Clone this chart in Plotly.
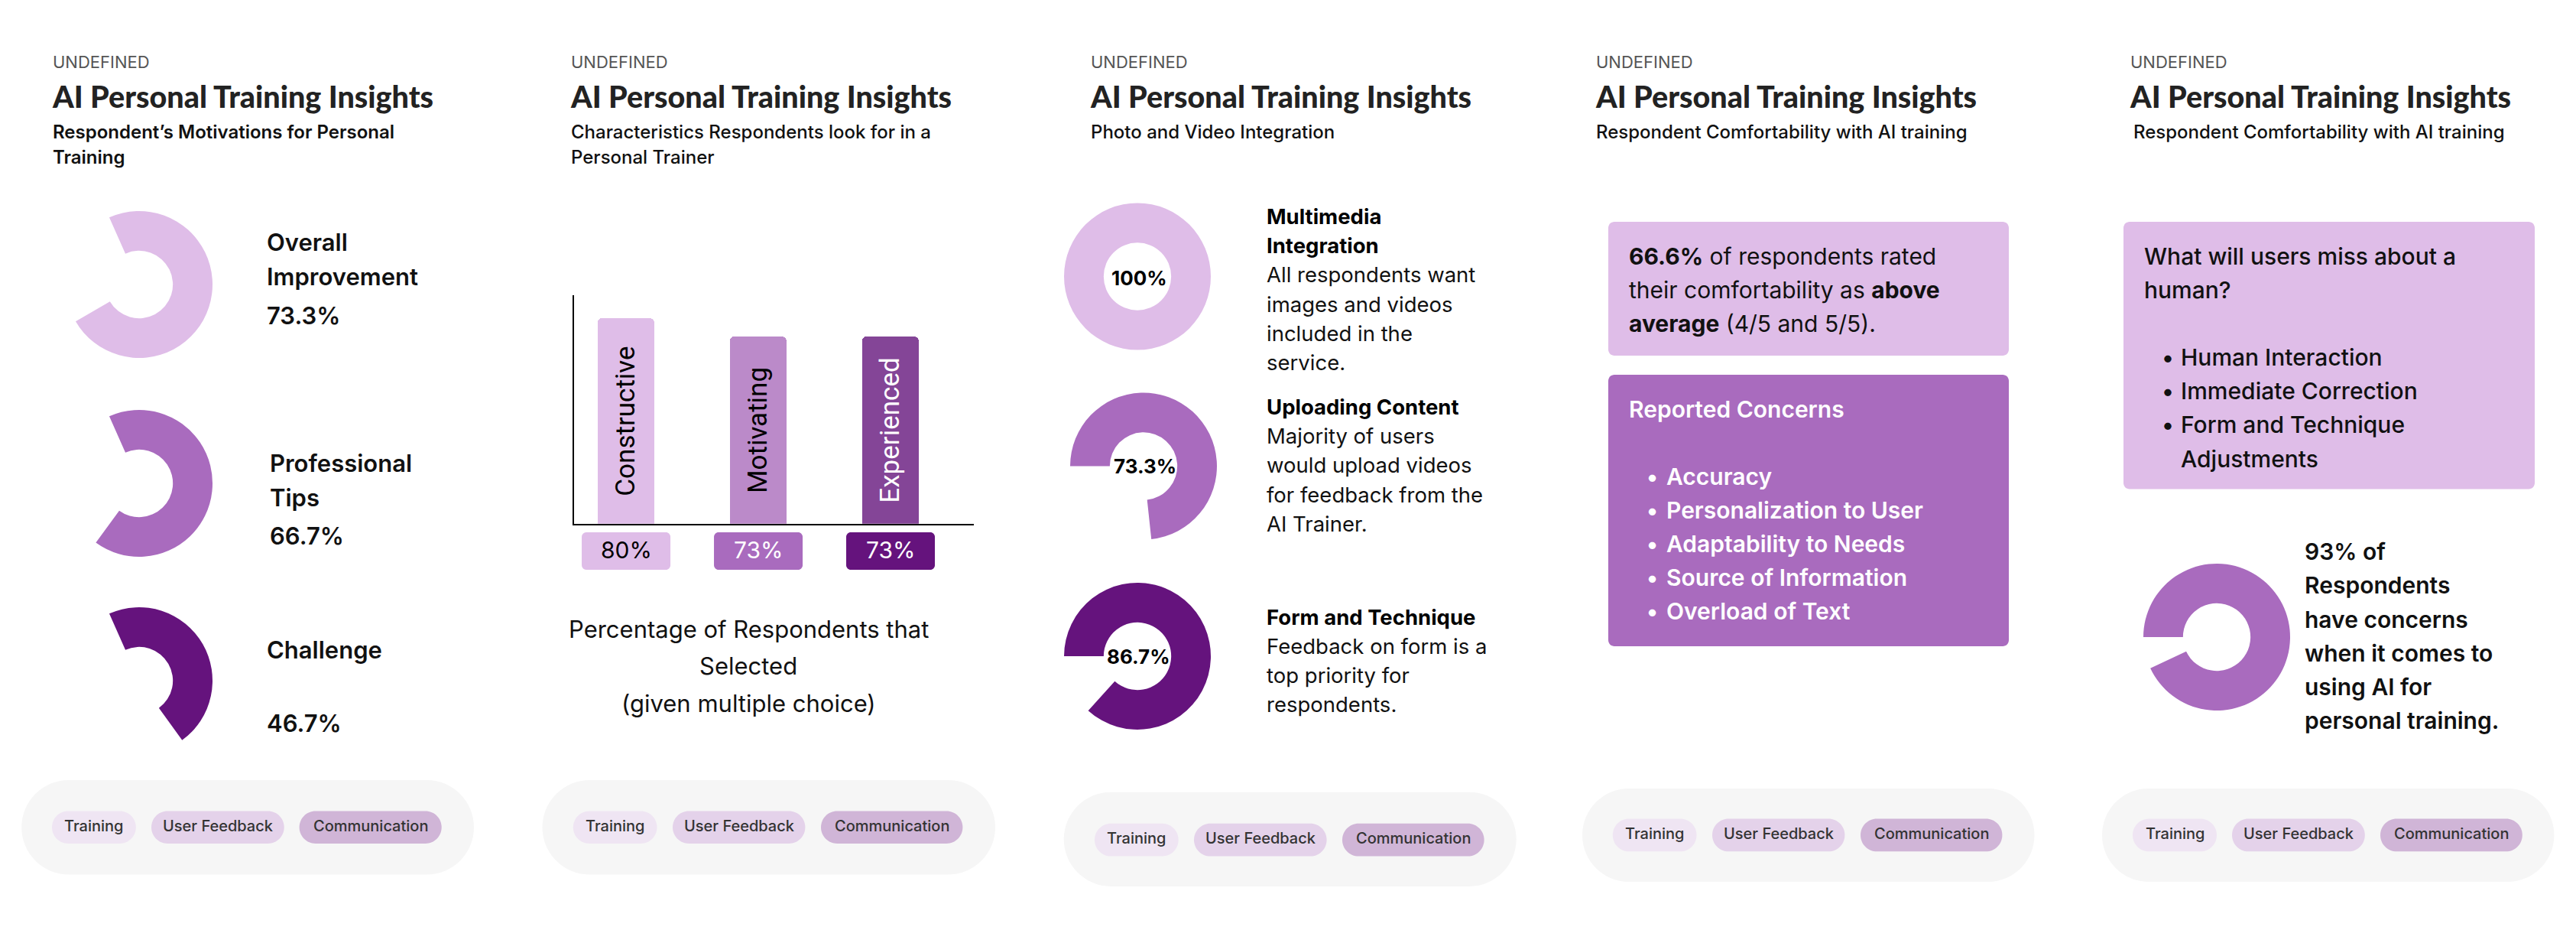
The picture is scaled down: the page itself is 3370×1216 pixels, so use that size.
import plotly.graph_objects as go

W, H = 3370, 1216

# ---------------- data ----------------
kicker = "UNDEFINED"
title_text = "AI Personal Training Insights"
subtitles = [
    ["Respondent\u2019s Motivations for Personal", "Training"],
    ["Characteristics Respondents look for in a", "Personal Trainer"],
    ["Photo and Video Integration"],
    ["Respondent Comfortability with AI training"],
    ["Respondent Comfortability with AI training"],
]

motivation_labels = [["Overall", "Improvement"], ["Professional", "Tips"], ["Challenge"]]
motivation_values = [73.3, 66.7, 46.7]

trait_names = ["Constructive", "Motivating", "Experienced"]
trait_values = [80, 73, 73]
caption_lines = ["Percentage of Respondents that", "Selected", "(given multiple choice)"]

media_values = [100, 73.3, 86.7]
media_heads = [["Multimedia", "Integration"], ["Uploading Content"], ["Form and Technique"]]
media_bodies = [
    ["All respondents want", "images and videos", "included in the", "service."],
    ["Majority of users", "would upload videos", "for feedback from the", "AI Trainer."],
    ["Feedback on form is a", "top priority for", "respondents."],
]

comfort_pct = 66.6
concerns = ["Accuracy", "Personalization to User", "Adaptability to Needs",
            "Source of Information", "Overload of Text"]
miss_items = [["Human Interaction"], ["Immediate Correction"], ["Form and Technique", "Adjustments"]]
concern_share = 93
concern_lines = ["Respondents", "have concerns", "when it comes to", "using AI for", "personal training."]

tags = ["Training", "User Feedback", "Communication"]

# ---------------- style ----------------
LIGHT, MID, DARK = "#dfbde8", "#a96bbe", "#65137d"
BAR_COLORS = ["#dfbde8", "#bb8ac9", "#844597"]
BOX_COLORS = [LIGHT, MID, DARK]
BOX_TEXT = ["#000000", "#ffffff", "#ffffff"]
BAR_TEXT = ["#000000", "#000000", "#ffffff"]
TAG_COLORS = ["#efe5f3", "#e4d2ea", "#d0b5d7"]
PILL_BG = "#f6f6f6"
BODY = "Inter, 'Noto Sans', sans-serif"
TITLE_FONT = "Lato, 'Liberation Sans', sans-serif"

DX, DY = -8, -6      # global placement offset (px)
TEXT_DY = -2         # extra lift for text baselines


def X(px):
    return (px + DX) / W


def Y(py):
    return 1 - (py + DY) / H


annotations = []
shapes = []


def T(x, y, text, size, color="#111111", weight=400, xanchor="left", family=BODY):
    annotations.append(dict(
        x=X(x), y=Y(y + TEXT_DY), xref="paper", yref="paper", text=text, showarrow=False,
        xanchor=xanchor, yanchor="middle",
        font=dict(family=family, size=size, color=color, weight=weight)))


def rrect(x0, y0, x1, y1, r, color):
    k = 0.5523 * r
    p = lambda x, y: f"{X(x):.6f},{Y(y):.6f}"
    path = (f"M{p(x0 + r, y0)} L{p(x1 - r, y0)} "
            f"C{p(x1 - r + k, y0)} {p(x1, y0 + r - k)} {p(x1, y0 + r)} "
            f"L{p(x1, y1 - r)} "
            f"C{p(x1, y1 - r + k)} {p(x1 - r + k, y1)} {p(x1 - r, y1)} "
            f"L{p(x0 + r, y1)} "
            f"C{p(x0 + r - k, y1)} {p(x0, y1 - r + k)} {p(x0, y1 - r)} "
            f"L{p(x0, y0 + r)} "
            f"C{p(x0, y0 + r - k)} {p(x0 + r - k, y0)} {p(x0 + r, y0)} Z")
    shapes.append(dict(type="path", path=path, xref="paper", yref="paper",
                       fillcolor=color, line=dict(width=0), layer="below"))


fig = go.Figure()


def donut(cx, cy, r, value, color, rotation):
    fig.add_trace(go.Pie(
        values=[value, 100 - value], sort=False, direction="clockwise",
        rotation=rotation, hole=0.46, textinfo="none", hoverinfo="skip",
        marker=dict(colors=[color, "rgba(0,0,0,0)"], line=dict(width=0)),
        domain=dict(x=[X(cx - r), X(cx + r)], y=[Y(cy + r), Y(cy - r)]),
        showlegend=False))


# ---------------- headers ----------------
head_x = [66.6, 745, 1425, 2085.5, 2785]
sub_x = [66.6, 745, 1425, 2085.5, 2789]
sub_weight = [600, 500, 500, 500, 500]
for i in range(5):
    T(head_x[i], 81.5, kicker, 22, color="#555555", weight=400)
    T(head_x[i] - 1, 126, title_text, 39.5, color="#222222", weight=900, family=TITLE_FONT)
    for j, line in enumerate(subtitles[i]):
        T(sub_x[i], 172 + 34 * j, line, 24, color="#111111", weight=sub_weight[i])

# ---------------- panel 1 ----------------
R = 96
p1_cy = [370, 630, 888]
p1_text_x = [347, 351, 347]
p1_line_y = [[316, 361, 413], [605, 650, 700], [849, 945]]
p1_colors = [LIGHT, MID, DARK]
for i, v in enumerate(motivation_values):
    donut(182, p1_cy[i], R, v, p1_colors[i], -24)
    lines = motivation_labels[i] + [f"{v:g}%"]
    for j, line in enumerate(lines):
        T(p1_text_x[i], p1_line_y[i][j], line, 31, color="#111111", weight=600)

# ---------------- panel 2 (bar chart) ----------------
xdom = (750.9, 1274.0)
xr = (-0.394, 2.63)
ydom = (682.7, 384.0)
fig.add_trace(go.Bar(
    x=trait_names, y=trait_values, width=0.425,
    marker=dict(color=BAR_COLORS, cornerradius=6, line=dict(width=0)),
    text=trait_names, textposition="inside", textangle=-90, insidetextanchor="middle",
    textfont=dict(family="Roboto, sans-serif", size=35, color=BAR_TEXT),
    hoverinfo="skip", showlegend=False, xaxis="x", yaxis="y"))


def cat_px(i):
    return xdom[0] + (i - xr[0]) / (xr[1] - xr[0]) * (xdom[1] - xdom[0])


for i, v in enumerate(trait_values):
    cx = cat_px(i)
    rrect(cx - 58, 694, cx + 58, 743, 6, BOX_COLORS[i])
    annotations.append(dict(x=trait_names[i], xref="x", y=Y(719 + TEXT_DY), yref="paper",
                            text=f"{v}%", showarrow=False, xanchor="center", yanchor="middle",
                            font=dict(family=BODY, size=30, color=BOX_TEXT[i], weight=400)))

for j, line in enumerate(caption_lines):
    T(979, 822 + 48.5 * j, line, 31, color="#111111", weight=400, xanchor="center")

# ---------------- panel 3 ----------------
p3_centers = [(1488, 359.5), (1496, 607.5), (1488, 856)]
p3_rot = [-90, -90, -90]
p3_label_xy = [(1490, 363), (1498, 609), (1489, 858.5)]
p3_block_y = [283, 532, 806.5]
for i, v in enumerate(media_values):
    cx, cy = p3_centers[i]
    donut(cx, cy, R, v, p1_colors[i], p3_rot[i])
    lx, ly = p3_label_xy[i]
    T(lx, ly, f"{v:g}%", 26, color="#000000", weight=700, xanchor="center")
    y = p3_block_y[i]
    for line in media_heads[i]:
        T(1655, y, line, 27.5, color="#000000", weight=700)
        y += 38.2
    for line in media_bodies[i]:
        T(1655, y, line, 27.5, color="#111111", weight=400)
        y += 38.2

# ---------------- panel 4 ----------------
rrect(2104, 288, 2628, 463, 8, LIGHT)
T(2129, 335, f"<b>{comfort_pct}%</b> of respondents rated", 30)
T(2129, 379, "their comfortability as <b>above</b>", 30)
T(2129, 423, "<b>average</b> (4/5 and 5/5).", 30)
rrect(2104, 488, 2628, 843, 8, MID)
T(2129, 535, "Reported Concerns", 30, color="#ffffff", weight=600)
for j, c in enumerate(concerns):
    yy = 623 + 44 * j
    T(2152, yy, "\u2022", 30, color="#ffffff", weight=600)
    T(2177.5, yy, c, 30, color="#ffffff", weight=600)

# ---------------- panel 5 ----------------
rrect(2778, 288, 3316, 637.5, 8, LIGHT)
T(2803, 335, "What will users miss about a", 30, weight=500)
T(2803, 379, "human?", 30, weight=500)
yy = 467
for item in miss_items:
    T(2825.5, yy, "\u2022", 30, weight=500)
    for line in item:
        T(2851, yy, line, 30, weight=500)
        yy += 44.2
donut(2900, 831, R, concern_share, MID, -90)
T(3013, 721, f"{concern_share}% of", 30, weight=600)
for j, line in enumerate(concern_lines):
    T(3013, 765.3 + 44.2 * j, line, 30, weight=600)

# ---------------- tag pills ----------------
pill_x = [(28.2, 620), (709.5, 1302), (1391.7, 1983.7), (2070, 2661.5), (2750, 3341.4)]
pill_y = [(1018, 1141.5), (1018, 1141.5), (1033.7, 1157), (1029, 1151), (1029, 1151)]
tag_y = [(1058.6, 1101), (1058.6, 1101), (1074.8, 1117.5), (1068.6, 1111.3), (1068.6, 1111.3)]
tag_x = [
    [(68, 177.8), (198, 371.7), (391.6, 577.7)],
    [(749.8, 859.5), (880, 1053.4), (1074, 1259.4)],
    [(1432, 1541.7), (1562, 1735.6), (1756, 1941.6)],
    [(2109.8, 2219.5), (2240, 2413.4), (2434, 2619.4)],
    [(2790, 2900), (2920, 3093.8), (3114, 3299.8)],
]
for p in range(5):
    x0, x1 = pill_x[p]
    y0, y1 = pill_y[p]
    rrect(x0, y0, x1, y1, (y1 - y0) / 2, PILL_BG)
    ty0, ty1 = tag_y[p]
    for k, tag in enumerate(tags):
        a, b = tag_x[p][k]
        rrect(a, ty0, b, ty1, (ty1 - ty0) / 2, TAG_COLORS[k])
        T((a + b) / 2, (ty0 + ty1) / 2, tag, 20, color="#333333", weight=500, xanchor="center")

fig.update_layout(
    width=W, height=H, margin=dict(l=0, r=0, t=0, b=0),
    paper_bgcolor="#ffffff", plot_bgcolor="rgba(0,0,0,0)",
    showlegend=False, annotations=annotations, shapes=shapes,
    xaxis=dict(domain=[X(xdom[0]), X(xdom[1])], range=list(xr), showline=True,
               linecolor="#000000", linewidth=2, showticklabels=False, ticks="",
               showgrid=False, zeroline=False, fixedrange=True),
    yaxis=dict(domain=[Y(ydom[0]), Y(ydom[1])], range=[0, 89], showline=True,
               linecolor="#000000", linewidth=2, showticklabels=False, ticks="",
               showgrid=False, zeroline=False, fixedrange=True),
    bargap=0,
)

fig.write_html("out.html")
